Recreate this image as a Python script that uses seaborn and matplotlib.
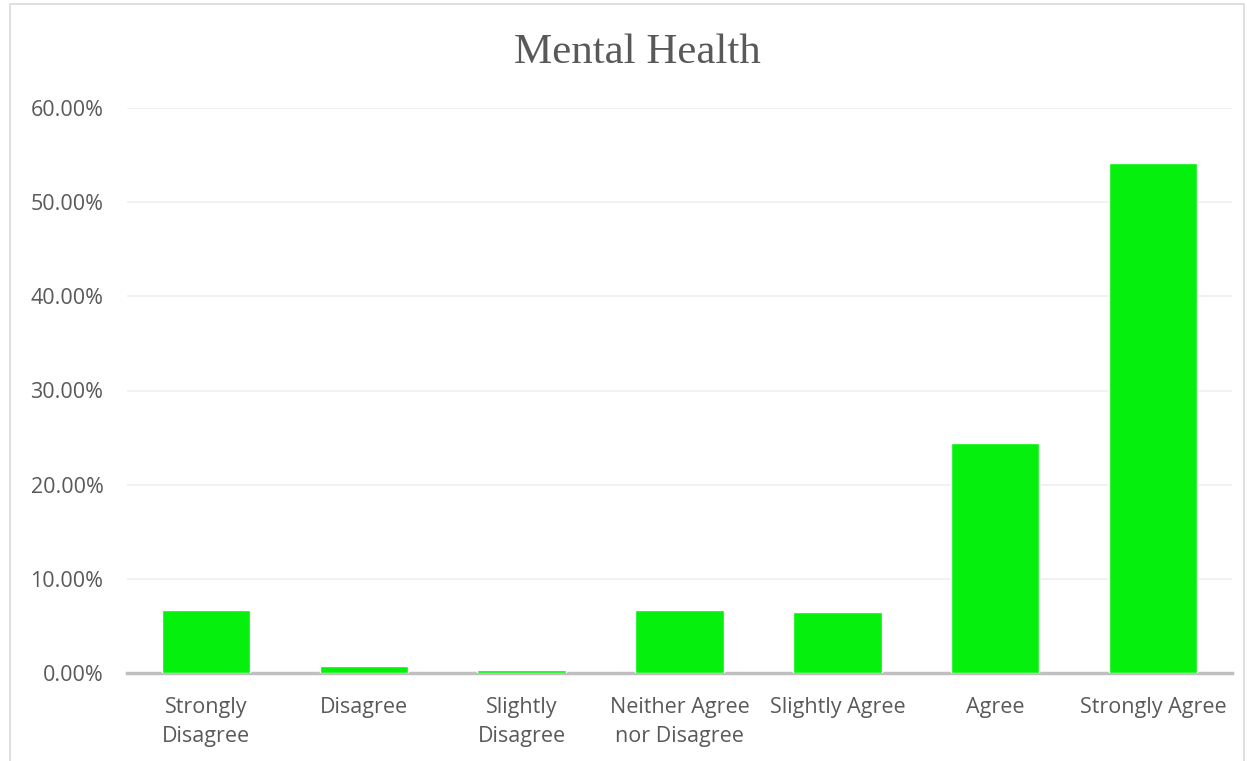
import matplotlib
matplotlib.use("Agg")
import matplotlib.pyplot as plt
from matplotlib.patches import Rectangle
from matplotlib.ticker import PercentFormatter, MultipleLocator
import seaborn as sns
import pandas as pd

categories = ["Strongly\nDisagree", "Disagree", "Slightly\nDisagree",
              "Neither Agree\nnor Disagree", "Slightly Agree", "Agree",
              "Strongly Agree"]
shares = [6.72, 0.74, 0.30, 6.70, 6.45, 24.40, 54.15]

df = pd.DataFrame({"response": categories, "share": shares})

sns.set_theme(style="white")
plt.rcParams["font.family"] = ["Open Sans", "DejaVu Sans"]

text_color = "#595959"
fig = plt.figure(figsize=(12.47, 7.61), dpi=100)
ax = fig.add_axes([127 / 1247, 1 - 673 / 761, (1232 - 127) / 1247, (673 - 108) / 761])

sns.barplot(data=df, x="response", y="share", color="#05f00c", saturation=1,
            width=0.56, ax=ax, zorder=3)

ax.set_xlim(-0.5, len(categories) - 0.5)
ax.set_ylim(0, 60)
ax.yaxis.set_major_locator(MultipleLocator(10))
ax.yaxis.set_major_formatter(PercentFormatter(decimals=2))
ax.grid(axis="y", color="#f0f0f0", linewidth=1.2, zorder=0)
ax.set_xlabel("")
ax.set_ylabel("")
for side in ["top", "right", "left"]:
    ax.spines[side].set_visible(False)
ax.spines["bottom"].set_color("#bfbfbf")
ax.spines["bottom"].set_linewidth(2.5)
ax.spines["bottom"].set_zorder(2)
ax.tick_params(axis="both", length=0, labelsize=15.5, labelcolor=text_color)
ax.tick_params(axis="x", pad=17)
ax.tick_params(axis="y", pad=17)
for lab in ax.get_xticklabels():
    lab.set_linespacing(1.55)

fig.text(637 / 1247, 1 - 53 / 761, "Mental Health", ha="center", va="center",
         fontsize=31, color=text_color, family="Liberation Serif")

fig.patches.append(Rectangle((10 / 1247, -0.01), (1244 - 10) / 1247, 1 - 4 / 761 + 0.01,
                             transform=fig.transFigure, fill=False,
                             edgecolor="#d9d9d9", linewidth=1.2))

fig.savefig("out.png", dpi=100)
